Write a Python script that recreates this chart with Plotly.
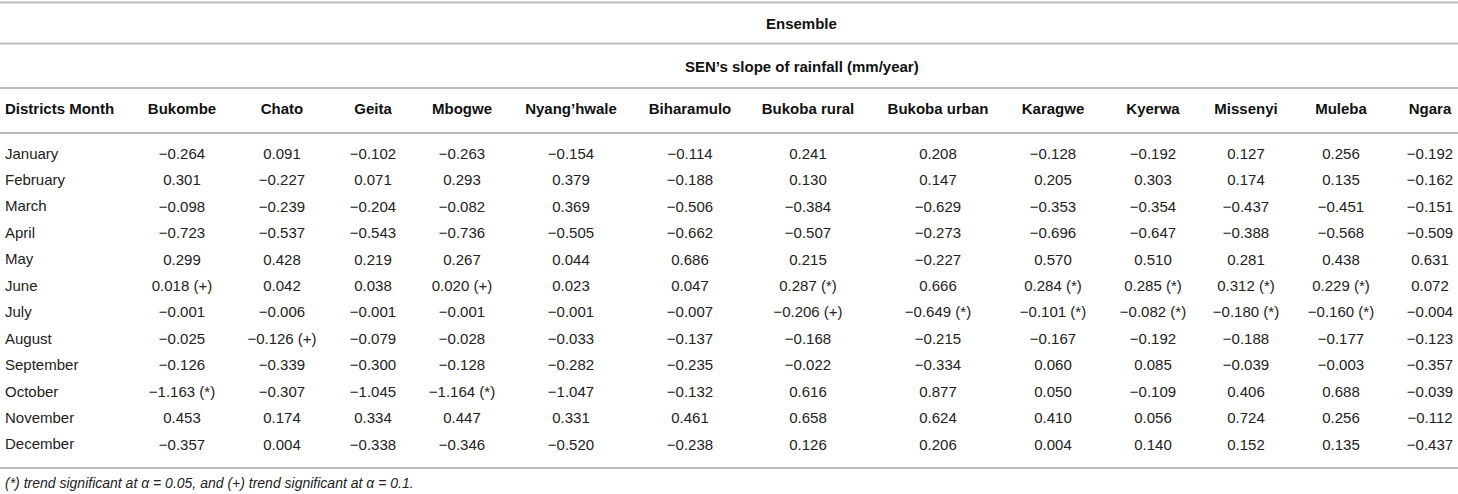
import plotly.graph_objects as go

MONTHS = ["January", "February", "March", "April", "May", "June", "July",
          "August", "September", "October", "November", "December"]

DISTRICTS = ["Bukombe", "Chato", "Geita", "Mbogwe", "Nyang\u2019hwale", "Biharamulo",
             "Bukoba rural", "Bukoba urban", "Karagwe", "Kyerwa", "Missenyi",
             "Muleba", "Ngara"]

# Sen's slope (mm/year), one list per district, January..December
BUKOMBE = [-0.264, 0.301, -0.098, -0.723, 0.299, 0.018, -0.001, -0.025, -0.126, -1.163, 0.453, -0.357]
CHATO = [0.091, -0.227, -0.239, -0.537, 0.428, 0.042, -0.006, -0.126, -0.339, -0.307, 0.174, 0.004]
GEITA = [-0.102, 0.071, -0.204, -0.543, 0.219, 0.038, -0.001, -0.079, -0.300, -1.045, 0.334, -0.338]
MBOGWE = [-0.263, 0.293, -0.082, -0.736, 0.267, 0.020, -0.001, -0.028, -0.128, -1.164, 0.447, -0.346]
NYANGHWALE = [-0.154, 0.379, 0.369, -0.505, 0.044, 0.023, -0.001, -0.033, -0.282, -1.047, 0.331, -0.520]
BIHARAMULO = [-0.114, -0.188, -0.506, -0.662, 0.686, 0.047, -0.007, -0.137, -0.235, -0.132, 0.461, -0.238]
BUKOBA_RURAL = [0.241, 0.130, -0.384, -0.507, 0.215, 0.287, -0.206, -0.168, -0.022, 0.616, 0.658, 0.126]
BUKOBA_URBAN = [0.208, 0.147, -0.629, -0.273, -0.227, 0.666, -0.649, -0.215, -0.334, 0.877, 0.624, 0.206]
KARAGWE = [-0.128, 0.205, -0.353, -0.696, 0.570, 0.284, -0.101, -0.167, 0.060, 0.050, 0.410, 0.004]
KYERWA = [-0.192, 0.303, -0.354, -0.647, 0.510, 0.285, -0.082, -0.192, 0.085, -0.109, 0.056, 0.140]
MISSENYI = [0.127, 0.174, -0.437, -0.388, 0.281, 0.312, -0.180, -0.188, -0.039, 0.406, 0.724, 0.152]
MULEBA = [0.256, 0.135, -0.451, -0.568, 0.438, 0.229, -0.160, -0.177, -0.003, 0.688, 0.256, 0.135]
NGARA = [-0.192, -0.162, -0.151, -0.509, 0.631, 0.072, -0.004, -0.123, -0.357, -0.039, -0.112, -0.437]

# significance markers: "*" = alpha 0.05, "+" = alpha 0.1
SIGNIFICANT = {
    ("Bukombe", "June"): "+", ("Bukombe", "October"): "*",
    ("Chato", "August"): "+",
    ("Mbogwe", "June"): "+", ("Mbogwe", "October"): "*",
    ("Bukoba rural", "June"): "*", ("Bukoba rural", "July"): "+",
    ("Bukoba urban", "July"): "*",
    ("Karagwe", "June"): "*", ("Karagwe", "July"): "*",
    ("Kyerwa", "June"): "*", ("Kyerwa", "July"): "*",
    ("Missenyi", "June"): "*", ("Missenyi", "July"): "*",
    ("Muleba", "June"): "*", ("Muleba", "July"): "*",
}

TITLE = "Ensemble"
SUBTITLE = "SEN\u2019s slope of rainfall (mm/year)"
CORNER = "Districts Month"
FOOTNOTE = "(*) trend significant at \u03b1 = 0.05, and (+) trend significant at \u03b1 = 0.1."

SERIES = [BUKOMBE, CHATO, GEITA, MBOGWE, NYANGHWALE, BIHARAMULO, BUKOBA_RURAL,
          BUKOBA_URBAN, KARAGWE, KYERWA, MISSENYI, MULEBA, NGARA]

# layout (pixel space of the 1458x494 page)
W, H = 1458, 494
COL_X = [182, 282, 373, 462, 571, 690, 808, 938, 1053, 1153, 1246, 1341, 1430]
ROW0, ROW_STEP = 155, 26.45
HEADER_Y, TITLE_Y, SUB_Y, FOOT_Y = 110, 23, 66, 483
RULES_Y = [2.5, 43.5, 88, 133, 468]
FONT = "Liberation Sans, Arial, sans-serif"
INK = "#222222"
HEAD_INK = "#111111"
RULE = "#bcbcbc"


def fmt(v, mark):
    s = f"{v:.3f}".replace("-", "\u2212")
    return f"{s} ({mark})" if mark else s


row_y = [ROW0 + i * ROW_STEP for i in range(len(MONTHS))]

fig = go.Figure()
for name, vals, cx in zip(DISTRICTS, SERIES, COL_X):
    fig.add_trace(go.Scatter(
        x=[cx] * len(vals), y=row_y, mode="text",
        text=[fmt(v, SIGNIFICANT.get((name, m), "")) for v, m in zip(vals, MONTHS)],
        textposition="middle center",
        textfont={"family": FONT, "size": 15, "color": INK},
        hoverinfo="skip", showlegend=False,
    ))
    fig.add_trace(go.Scatter(
        x=[cx], y=[HEADER_Y], mode="text", text=[name],
        textposition="middle center",
        textfont={"family": FONT, "size": 15, "color": HEAD_INK, "weight": "bold"},
        hoverinfo="skip", showlegend=False,
    ))

# left-aligned labels; yshift lines annotation boxes up with the scatter text
annotations = [
    dict(x=3, y=y, text=m, xanchor="left", yanchor="middle", yshift=2,
         showarrow=False, font={"family": FONT, "size": 15, "color": INK})
    for m, y in zip(MONTHS, row_y)
]
annotations.append(dict(x=3, y=HEADER_Y, text=f"<b>{CORNER}</b>", xanchor="left",
                        yanchor="middle", yshift=2, showarrow=False,
                        font={"family": FONT, "size": 15, "color": HEAD_INK}))
mid = (COL_X[0] - 37 + W) / 2
annotations.append(dict(x=mid, y=TITLE_Y, text=f"<b>{TITLE}</b>", showarrow=False,
                        font={"family": FONT, "size": 15, "color": HEAD_INK}))
annotations.append(dict(x=mid, y=SUB_Y, text=f"<b>{SUBTITLE}</b>", showarrow=False,
                        font={"family": FONT, "size": 15, "color": HEAD_INK}))
annotations.append(dict(x=3, y=FOOT_Y, text=f"<i>{FOOTNOTE}</i>", xanchor="left",
                        yanchor="middle", showarrow=False,
                        font={"family": FONT, "size": 14, "color": INK}))

shapes = [
    dict(type="line", xref="x", yref="y", x0=0, x1=W, y0=y, y1=y,
         line={"color": RULE, "width": 2})
    for y in RULES_Y
]

fig.update_layout(
    width=W, height=H,
    margin={"l": 0, "r": 0, "t": 0, "b": 0},
    paper_bgcolor="white", plot_bgcolor="white",
    xaxis={"range": [0, W], "visible": False, "fixedrange": True},
    yaxis={"range": [H, 0], "visible": False, "fixedrange": True},
    annotations=annotations, shapes=shapes,
)

# drop the browser's default 8px body margin so the page lines up with the window
fig.write_html("out.html", config={"displayModeBar": False},
               post_script="document.body.style.margin='0';"
                           "document.body.style.overflow='hidden';")
